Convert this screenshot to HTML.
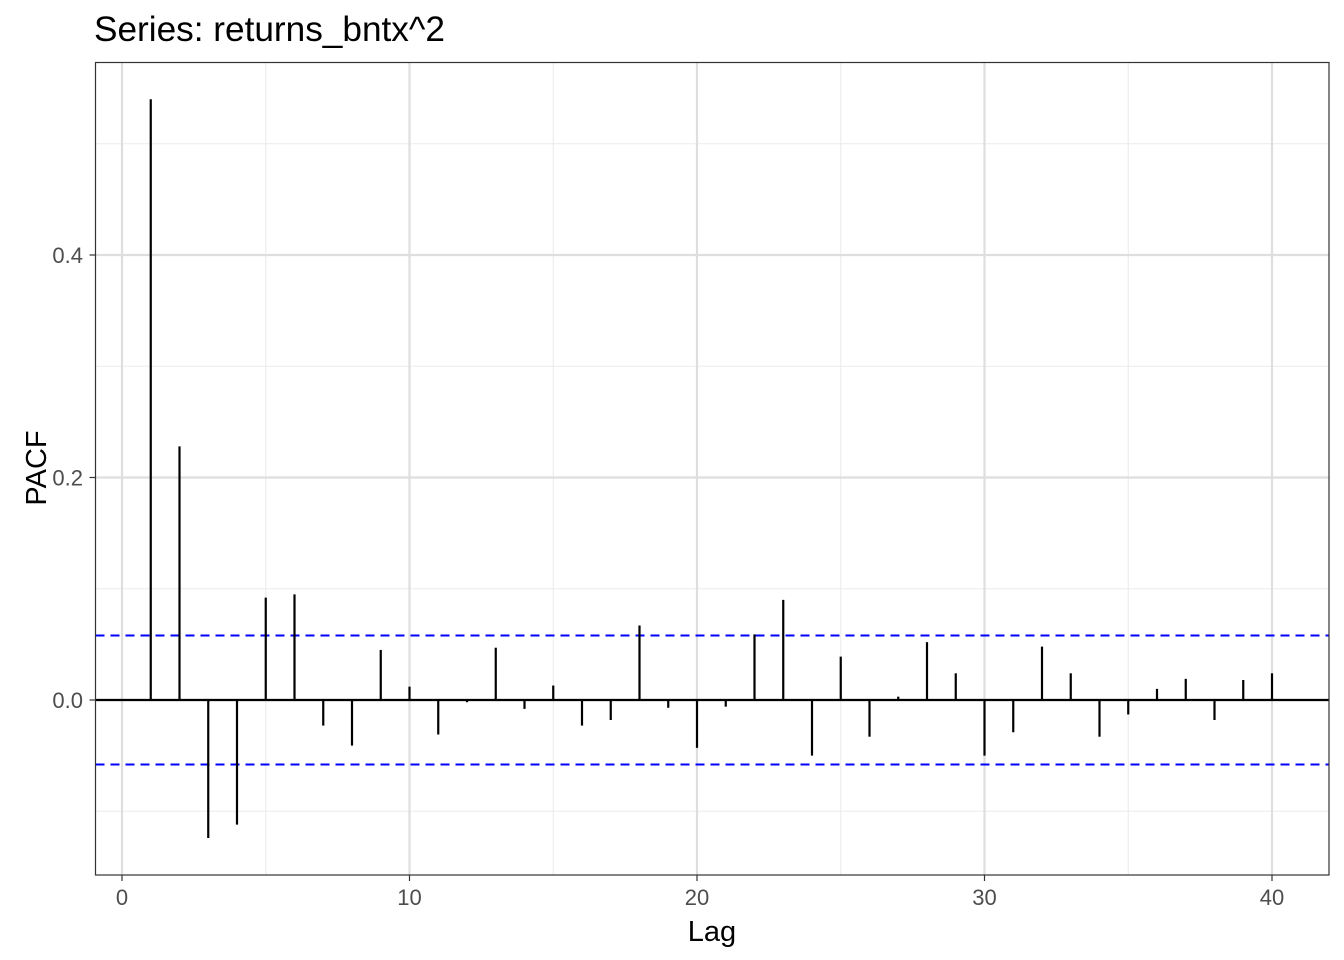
<!DOCTYPE html>
<html><head><meta charset="utf-8"><style>
html,body{margin:0;padding:0;background:#fff;}
svg{display:block;font-family:"Liberation Sans",Arial,sans-serif;}
</style></head><body>
<svg id="chart" width="1344" height="960">
<text x="94" y="41" font-size="35.2" fill="#000">Series: returns_bntx^2</text>
<g id="grid"></g>
<g id="marks"></g>
<rect x="95.5" y="62.5" width="1233.5" height="812.5" fill="none" stroke="#333" stroke-width="1.2"/>
<g id="axes"></g>
<text x="712" y="941" font-size="29" text-anchor="middle">Lag</text>
<text transform="translate(46,468) rotate(-90)" font-size="29" text-anchor="middle">PACF</text>
</svg>
<script>
const lags = [1,2,3,4,5,6,7,8,9,10,11,12,13,14,15,16,17,18,19,20,21,22,23,24,25,26,27,28,29,30,31,32,33,34,35,36,37,38,39,40];
const pacfValues = [0.540,0.228,-0.124,-0.112,0.092,0.095,-0.023,-0.041,0.045,0.012,-0.031,-0.002,0.047,-0.008,0.013,-0.023,-0.018,0.067,-0.007,-0.043,-0.006,0.059,0.090,-0.050,0.039,-0.033,0.003,0.052,0.024,-0.050,-0.029,0.048,0.024,-0.033,-0.013,0.010,0.019,-0.018,0.018,0.024];
const ciBound = [0.058];
const xTicks = [0,10,20,30,40];
const xMinor = [5,15,25,35];
const yTicks = [0.0,0.2,0.4];
const yMinor = [-0.1,0.1,0.3,0.5];

const X0=95.5,X1=1329,Y0=62.5,Y1=875;
function xs(v){return 122+v*28.75;}
function ys(v){return 700-v*1112.5;}
const NS="http://www.w3.org/2000/svg";
function mk(parent,tag,attrs){const e=document.createElementNS(NS,tag);for(const k in attrs)e.setAttribute(k,attrs[k]);document.getElementById(parent).appendChild(e);return e;}

yMinor.forEach(v=>{const e=mk('grid','line',{x1:X0,x2:X1,y1:ys(v),y2:ys(v),stroke:'#ebebeb','stroke-width':1.1});

});
xMinor.forEach(v=>{const e=mk('grid','line',{x1:xs(v),x2:xs(v),y1:Y0,y2:Y1,stroke:'#ebebeb','stroke-width':1.1});

});
yTicks.forEach(v=>{const e=mk('grid','line',{x1:X0,x2:X1,y1:ys(v),y2:ys(v),stroke:'#dedede','stroke-width':2.2});

});
xTicks.forEach(v=>{const e=mk('grid','line',{x1:xs(v),x2:xs(v),y1:Y0,y2:Y1,stroke:'#dedede','stroke-width':2.2});

});

const z=mk('marks','line',{x1:X0,x2:X1,y1:ys(0),y2:ys(0),stroke:'#000','stroke-width':2.2});


[ciBound[0],-ciBound[0]].forEach(v=>{const e=mk('marks','line',{x1:X0,x2:X1,y1:ys(v),y2:ys(v),stroke:'#0000ff','stroke-width':2,'stroke-dasharray':'9,6'});

});
lags.forEach((l,i)=>{const e=mk('marks','line',{x1:xs(l),x2:xs(l),y1:ys(0),y2:ys(pacfValues[i]),stroke:'#000','stroke-width':2.2});

});

xTicks.forEach(v=>{mk('axes','line',{x1:xs(v),x2:xs(v),y1:Y1,y2:Y1+6,stroke:'#333','stroke-width':1.2});
const t=mk('axes','text',{x:xs(v),y:905,'font-size':22,fill:'#4d4d4d','text-anchor':'middle'});t.textContent=v;

});
yTicks.forEach(v=>{mk('axes','line',{x1:X0-6,x2:X0,y1:ys(v),y2:ys(v),stroke:'#333','stroke-width':1.2});
const t=mk('axes','text',{x:83,y:ys(v)+8,'font-size':22,fill:'#4d4d4d','text-anchor':'end'});t.textContent=v.toFixed(1);

});
</script>
</body></html>
